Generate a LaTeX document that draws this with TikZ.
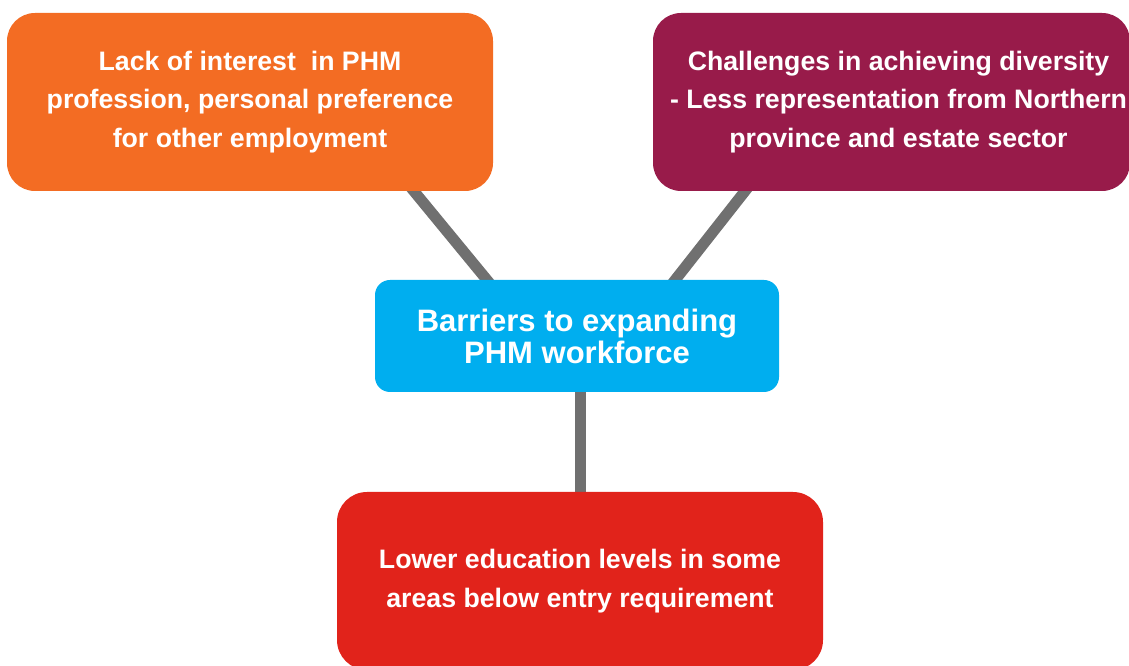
\documentclass[tikz,border=0pt]{standalone}
\usepackage{fontspec}
\setmainfont{Liberation Sans}
\usetikzlibrary{calc,backgrounds}
\definecolor{cOrange}{RGB}{243,108,35}
\definecolor{cPlum}{RGB}{152,27,74}
\definecolor{cSky}{RGB}{0,174,239}
\definecolor{cRed}{RGB}{225,35,27}
\definecolor{cLink}{RGB}{112,112,112}
\begin{document}
\begin{tikzpicture}[x=1pt,y=1pt, line join=round,
		box/.style={rectangle, rounded corners=28pt, inner sep=0pt, text=white, align=center,
			font=\bfseries\fontsize{26.7}{38.5}\selectfont, minimum width=486pt, minimum height=178pt},
		link/.style={draw=cLink, line width=11pt, shorten <=-8pt, shorten >=-8pt}]
				\useasboundingbox (0,0) rectangle (1129,666);
				% the four boxes
				\node[box, fill=cOrange] (lack) at (250,564) {Lack of interest\ \ in PHM\\profession, personal preference\\for other employment};
				\node[box, fill=cPlum, minimum width=477pt] (div) at (891.5,564) {\hspace*{14pt}Challenges in achieving diversity\\\hspace*{14pt}- Less representation from Northern\\\hspace*{14pt}province and estate sector};
				\node[box, fill=cSky, rounded corners=15pt, minimum width=404pt, minimum height=112pt,
					font=\bfseries\fontsize{31}{32}\selectfont] (barrier) at (577,330) {Barriers to expanding\\PHM workforce};
				\node[box, fill=cRed, rounded corners=30pt] (lower) at (580,85) {Lower education levels in some\\areas below entry requirement};
				% grey connectors, behind the boxes
				\path ($(lack.south west)!0.837!(lack.south east)$)coordinate(L1)
				($(barrier.north west)!0.277!(barrier.north east)$)coordinate(L2)
				($(div.south west)!0.193!(div.south east)$)coordinate(R1)
				($(barrier.north west)!0.743!(barrier.north east)$)coordinate(R2);
				\begin{scope}[on background layer]
					\draw[link] (L1)--(L2);
					\draw[link] (R1)--(R2);
					\draw[link] (lower.north |- barrier.south)--(lower.north);
				\end{scope}
			\end{tikzpicture}
\end{document}
